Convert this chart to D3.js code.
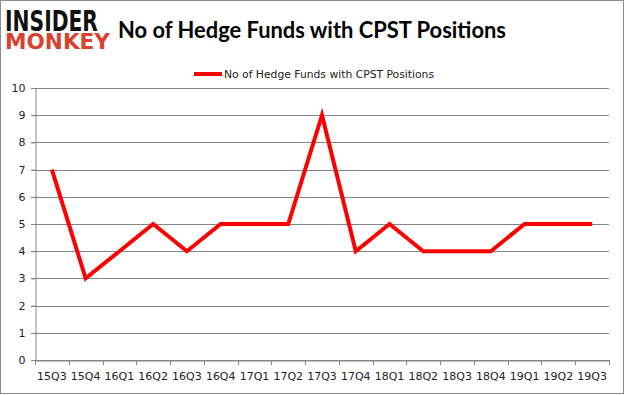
<!DOCTYPE html>
<html><head><meta charset="utf-8">
<script src="https://cdn.jsdelivr.net/npm/d3@7"></script>
<style>body{margin:0;background:#fff}svg{display:block}</style>
</head><body>
<svg id="c" width="625" height="395"></svg>
<script>
const categories = ["15Q3","15Q4","16Q1","16Q2","16Q3","16Q4","17Q1","17Q2","17Q3","17Q4","18Q1","18Q2","18Q3","18Q4","19Q1","19Q2","19Q3"];
const values = [7,3,4,5,4,5,5,5,9,4,5,4,4,4,5,5,5];
const yTicks = [0,1,2,3,4,5,6,7,8,9,10];
const seriesName = "No of Hedge Funds with CPST Positions";
const titleText = "No of Hedge Funds with CPST Positions";

const svg = d3.select("#c");
svg.append("rect").attr("x",0.5).attr("y",0.5).attr("width",623).attr("height",393)
  .attr("fill","#fff").attr("stroke","#8c8c8c").attr("stroke-width",1);

const L=35, R=609, T=88, B=360;
const x = d3.scaleBand().domain(categories).range([L,R]);
const y = d3.scaleLinear().domain([0,10]).range([B,T]);

// grid
svg.append("g").selectAll("line").data(yTicks).join("line")
  .attr("x1",L-4).attr("x2",R).attr("y1",d=>Math.round(y(d))+0.5).attr("y2",d=>Math.round(y(d))+0.5)
  .attr("stroke","#868686").attr("stroke-width",1);

// y axis
const ya = svg.append("g").attr("transform",`translate(${L+0.5},0)`)
  .call(d3.axisLeft(y).tickValues(yTicks).tickSize(4).tickPadding(6));
ya.select(".domain").attr("stroke","#868686");
ya.selectAll(".tick line").attr("stroke","#868686");
ya.selectAll("text").attr("font-family","DejaVu Sans").attr("font-size","11px").attr("fill","#222");

// x axis
const xa = svg.append("g").attr("transform",`translate(0,${B+0.5})`)
  .call(d3.axisBottom(x).tickSize(0).tickPadding(12));
xa.select(".domain").attr("stroke","#868686");
xa.selectAll("text").attr("font-family","DejaVu Sans").attr("font-size","11px").attr("fill","#222");
svg.append("g").selectAll("line").data(categories.concat(["_end"])).join("line")
  .attr("x1",(d,i)=>Math.round(L+i*x.step())+0.5).attr("x2",(d,i)=>Math.round(L+i*x.step())+0.5)
  .attr("y1",B).attr("y2",B+5).attr("stroke","#868686");

// line
const line = d3.line().x((d,i)=>x(categories[i])+x.bandwidth()/2).y(d=>y(d));
svg.append("path").datum(values).attr("d",line).attr("fill","none")
  .attr("stroke","#ff0000").attr("stroke-width",4).attr("stroke-linejoin","miter");

// title
svg.append("text").attr("x",118).attr("y",38).attr("font-family","Lato").attr("font-weight","bold")
  .attr("font-size","23px").attr("fill","#000").attr("textLength",388).attr("lengthAdjust","spacingAndGlyphs").text(titleText);

// legend
svg.append("line").attr("x1",194).attr("x2",222).attr("y1",74).attr("y2",74).attr("stroke","#ff0000").attr("stroke-width",4);
svg.append("text").attr("x",224).attr("y",78).attr("font-family","DejaVu Sans").attr("font-size","11px")
  .attr("fill","#222").attr("textLength",210).attr("lengthAdjust","spacingAndGlyphs").text(seriesName);

// logo
svg.append("text").attr("x",5).attr("y",31).attr("font-family","DejaVu Sans").attr("font-weight","bold")
  .attr("font-size","28px").attr("fill","#111").attr("textLength",93).attr("lengthAdjust","spacingAndGlyphs").text("INSIDER");
svg.append("text").attr("x",5).attr("y",49).attr("font-family","DejaVu Sans").attr("font-weight","600")
  .attr("font-size","22px").attr("fill","#d9432e").attr("textLength",105).attr("lengthAdjust","spacingAndGlyphs").text("MONKEY");
</script>
</body></html>
